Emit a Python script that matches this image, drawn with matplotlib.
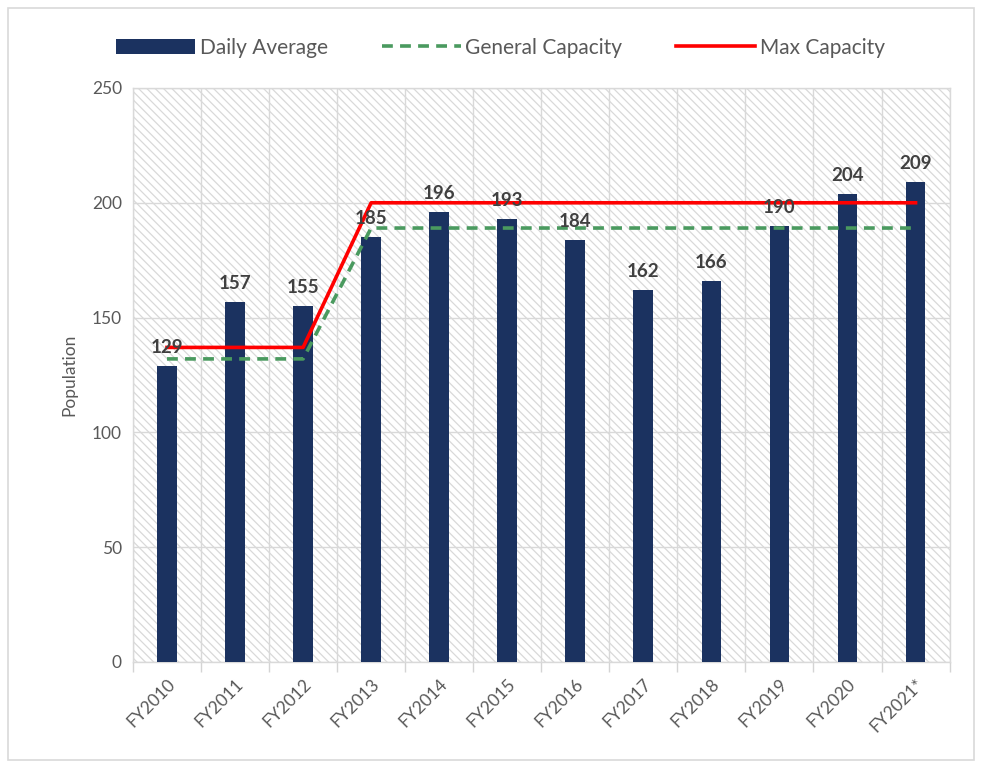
import matplotlib.pyplot as plt
from matplotlib.patches import Rectangle
import numpy as np

years = ['FY2010', 'FY2011', 'FY2012', 'FY2013', 'FY2014', 'FY2015',
         'FY2016', 'FY2017', 'FY2018', 'FY2019', 'FY2020', 'FY2021*']
daily_avg = [129, 157, 155, 185, 196, 193, 184, 162, 166, 190, 204, 209]
general_cap = [132, 132, 132, 189, 189, 189, 189, 189, 189, 189, 189, 189]
max_cap = [137, 137, 137, 200, 200, 200, 200, 200, 200, 200, 200, 200]

plt.rcParams['font.family'] = ['Lato', 'DejaVu Sans']
plt.rcParams['hatch.color'] = '#d9d9d9'
plt.rcParams['hatch.linewidth'] = 0.9

grey = '#595959'
fig = plt.figure(figsize=(9.82, 7.63), dpi=100)
ax = fig.add_axes([0.1354, 0.1324, 0.8316, 0.7523])

x = np.arange(len(years)) + 0.5

# hatched plot background
ax.add_patch(Rectangle((0, 0), 1, 1, transform=ax.transAxes, facecolor='white',
                       edgecolor='#d9d9d9', hatch='\\' * 4, lw=0, zorder=0))

bars = ax.bar(x, daily_avg, width=0.29, color='#1b3260', zorder=3, label='Daily Average')
gl, = ax.plot(x, general_cap, color='#4a9a5f', lw=2.6, ls=(0, (3, 2)), zorder=4,
              label='General Capacity')
ml, = ax.plot(x, max_cap, color='#ff0000', lw=2.6, zorder=5, label='Max Capacity')

for xi, v in zip(x, daily_avg):
    ax.annotate(str(v), (xi, v), xytext=(0, 7), textcoords='offset points',
                ha='center', va='bottom', fontsize=13.5, fontweight='bold',
                color='#404040', zorder=6)

ax.set_xlim(0, len(years))
ax.set_ylim(0, 250)
ax.set_yticks(range(0, 251, 50))
ax.set_xticks(x)
ax.set_xticklabels(years, rotation=45, ha='right', rotation_mode='anchor')
ax.set_xticks(np.arange(len(years) + 1), minor=True)
ax.tick_params(axis='x', which='major', length=0, labelsize=12.5, colors=grey, pad=10)
ax.tick_params(axis='x', which='minor', length=7, color='#d4d4d4', width=1)
ax.tick_params(axis='y', length=0, labelsize=12.5, colors=grey, pad=8)
ax.grid(axis='y', color='#d9d9d9', lw=1, zorder=1)
ax.grid(axis='x', which='minor', color='#d9d9d9', lw=1, zorder=1)
ax.set_axisbelow(True)
for s in ax.spines.values():
    s.set_color('#d9d9d9')
    s.set_linewidth(1)
ax.set_ylabel('Population', fontsize=12.5, color=grey, labelpad=10)

ax.legend([bars, gl, ml], ['Daily Average', 'General Capacity', 'Max Capacity'],
          loc='lower center', bbox_to_anchor=(0.45, 1.02), ncol=3, frameon=False,
          fontsize=15, handlelength=3.8, columnspacing=2.6, handletextpad=0.2,
          labelcolor=grey)

fig.patches.append(Rectangle((0.008, 0.004), 0.984, 0.985, transform=fig.transFigure,
                             fill=False, edgecolor='#d9d9d9', lw=1.2))

fig.savefig('out.png', dpi=100)
